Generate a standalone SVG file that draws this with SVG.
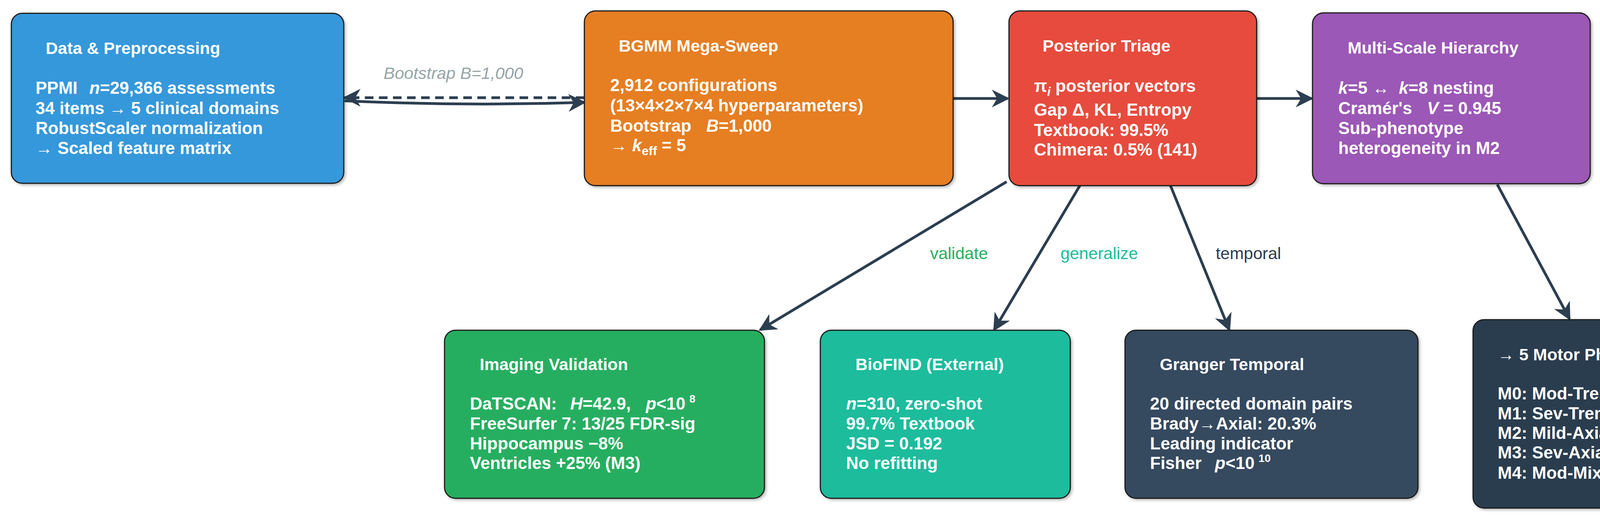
<svg xmlns="http://www.w3.org/2000/svg" width="4540" height="1328" viewBox="0 0 4540 1328">
<style>
.box{stroke:#1c1c1c;stroke-width:3}
text{font-family:"Liberation Sans",Arial,sans-serif}
.t{font-size:43px;font-weight:bold;fill:#fff}
.b{font-size:44px;font-weight:bold;fill:#fff}
.c{stroke:#2c3e50;stroke-width:7;fill:none}
.l{font-size:43px}
</style>
<defs>
<marker id="ah" viewBox="0 0 10 10" refX="9" refY="5" markerWidth="6.5" markerHeight="6.5" markerUnits="strokeWidth" orient="auto-start-reverse"><path d="M0,0 L10,5 L0,10 L3,5 Z" fill="#2c3e50"/></marker>
<filter id="sh" x="-5%" y="-5%" width="110%" height="110%"><feDropShadow dx="4" dy="4" stdDeviation="3" flood-opacity="0.25"/></filter>
</defs>
<g id="connectors">
<path class="c" d="M1496,250 L882,250" stroke-dasharray="22,14" marker-end="url(#ah)"/>
<path class="c" d="M882,258 Q1190,272 1496,262" marker-end="url(#ah)"/>
<text class="l" x="982" y="202" fill="#95a5a6" font-style="italic">Bootstrap B=1,000</text>
<path class="c" d="M2440,252 L2580,252" marker-end="url(#ah)"/>
<path class="c" d="M3217,252 L3358,252" marker-end="url(#ah)"/>
<path class="c" d="M2577,465 L1946,844" marker-end="url(#ah)"/>
<path class="c" d="M2765,474 L2545,844" marker-end="url(#ah)"/>
<path class="c" d="M2996,474 L3147,844" marker-end="url(#ah)"/>
<path class="c" d="M3833,472 L4018,816" marker-end="url(#ah)"/>
<text class="l" x="2455" y="663" fill="#27ae60" text-anchor="middle">validate</text>
<text class="l" x="2814" y="663" fill="#1abc9c" text-anchor="middle">generalize</text>
<text class="l" x="3196" y="663" fill="#2c3e50" text-anchor="middle">temporal</text>
</g>
<g id="data">
<rect class="box" x="29" y="34" width="851" height="435" rx="28" fill="#3498db" filter="url(#sh)"/>
<text class="t" x="117" y="138">Data &amp; Preprocessing</text>
<text class="b" x="91" y="240">PPMI <tspan dx="18" font-style="italic">n</tspan>=29,366 assessments</text>
<text class="b" x="91" y="292">34 items → 5 clinical domains</text>
<text class="b" x="91" y="343">RobustScaler normalization</text>
<text class="b" x="91" y="394">→ Scaled feature matrix</text>
</g>
<g id="bgmm">
<rect class="box" x="1496" y="28" width="944" height="447" rx="28" fill="#e67e22" filter="url(#sh)"/>
<text class="t" x="1584" y="132">BGMM Mega-Sweep</text>
<text class="b" x="1562" y="233">2,912 configurations</text>
<text class="b" x="1562" y="285">(13×4×2×7×4 hyperparameters)</text>
<text class="b" x="1562" y="337">Bootstrap <tspan dx="26" font-style="italic">B</tspan>=1,000</text>
<text class="b" x="1562" y="387">→ <tspan font-style="italic">k</tspan><tspan font-size="32" dy="10">eff</tspan><tspan dy="-10" dx="12">= 5</tspan></text>
</g>
<g id="triage">
<rect class="box" x="2583" y="28" width="634" height="447" rx="28" fill="#e74c3c" filter="url(#sh)"/>
<text class="t" x="2669" y="132">Posterior Triage</text>
<text class="b" x="2647" y="235">π<tspan font-size="32" dy="10" font-style="italic">i</tspan><tspan dy="-10"> posterior vectors</tspan></text>
<text class="b" x="2647" y="296">Gap Δ, KL, Entropy</text>
<text class="b" x="2647" y="348">Textbook: 99.5%</text>
<text class="b" x="2647" y="398">Chimera: 0.5% (141)</text>
</g>
<g id="hierarchy">
<rect class="box" x="3360" y="33" width="711" height="437" rx="28" fill="#9b59b6" filter="url(#sh)"/>
<text class="t" x="3450" y="137">Multi-Scale Hierarchy</text>
<text class="b" x="3426" y="240"><tspan font-style="italic">k</tspan>=5 ↔ <tspan dx="12" font-style="italic">k</tspan>=8 nesting</text>
<text class="b" x="3426" y="292">Cramér's <tspan dx="26" font-style="italic">V</tspan> = 0.945</text>
<text class="b" x="3426" y="343">Sub-phenotype</text>
<text class="b" x="3426" y="394">heterogeneity in M2</text>
</g>
<g id="imaging">
<rect class="box" x="1138" y="845" width="819" height="430" rx="28" fill="#27ae60" filter="url(#sh)"/>
<text class="t" x="1228" y="947">Imaging Validation</text>
<text class="b" x="1203" y="1048">DaTSCAN: <tspan dx="22" font-style="italic">H</tspan>=42.9, <tspan dx="26" font-style="italic">p</tspan>&lt;10<tspan font-size="28" dy="-18" dx="10">8</tspan></text>
<text class="b" x="1203" y="1099">FreeSurfer 7: 13/25 FDR-sig</text>
<text class="b" x="1203" y="1150">Hippocampus −8%</text>
<text class="b" x="1203" y="1200">Ventricles +25% (M3)</text>
</g>
<g id="biofind">
<rect class="box" x="2100" y="845" width="640" height="430" rx="28" fill="#1abc9c" filter="url(#sh)"/>
<text class="t" x="2190" y="947">BioFIND (External)</text>
<text class="b" x="2166" y="1048"><tspan font-style="italic">n</tspan>=310, zero-shot</text>
<text class="b" x="2166" y="1099">99.7% Textbook</text>
<text class="b" x="2166" y="1150">JSD = 0.192</text>
<text class="b" x="2166" y="1200">No refitting</text>
</g>
<g id="granger">
<rect class="box" x="2880" y="845" width="750" height="430" rx="28" fill="#34495e" filter="url(#sh)"/>
<text class="t" x="2969" y="947">Granger Temporal</text>
<text class="b" x="2944" y="1048">20 directed domain pairs</text>
<text class="b" x="2944" y="1099">Brady→Axial: 20.3%</text>
<text class="b" x="2944" y="1150">Leading indicator</text>
<text class="b" x="2944" y="1200">Fisher <tspan dx="22" font-style="italic">p</tspan>&lt;10<tspan font-size="28" dy="-18" dx="10">10</tspan></text>
</g>
<g id="motor">
<rect class="box" x="3771" y="818" width="744" height="482" rx="28" fill="#2c3e50" filter="url(#sh)"/>
<text class="t" x="3834" y="922">→ 5 Motor Phenotypes</text>
<text class="b" x="3834" y="1022">M0: Mod-Tremor (11.9%)</text>
<text class="b" x="3834" y="1073">M1: Sev-Tremor (4.0%)</text>
<text class="b" x="3834" y="1123">M2: Mild-Axial (71.7%)</text>
<text class="b" x="3834" y="1173">M3: Sev-Axial (4.2%)</text>
<text class="b" x="3834" y="1225">M4: Mod-Mixed (8.3%)</text>
</g>
</svg>
